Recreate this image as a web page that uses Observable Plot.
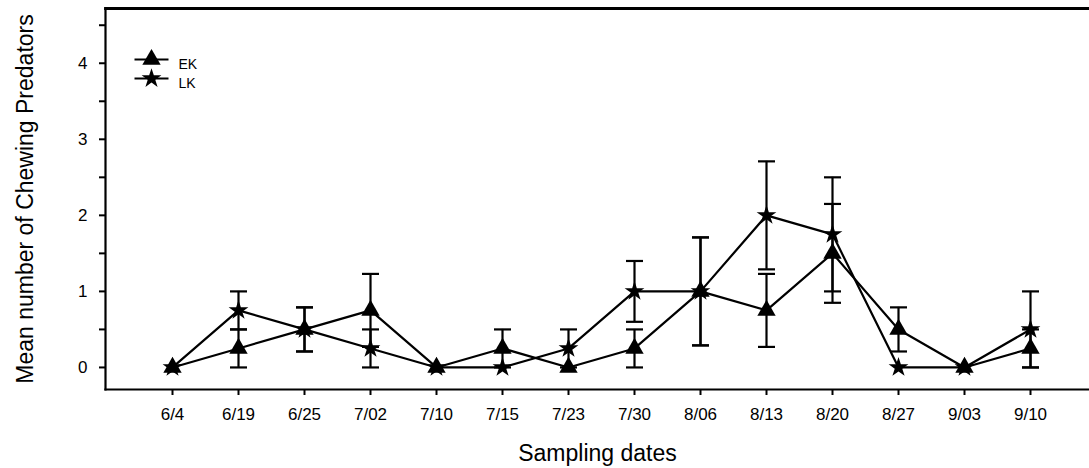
<!DOCTYPE html>
<html>
<head>
<meta charset="utf-8">
<script src="https://cdn.jsdelivr.net/npm/d3@7"></script>
<script src="https://cdn.jsdelivr.net/npm/@observablehq/plot@0.6"></script>
<style>
  html, body { margin: 0; padding: 0; background: #fff; }
</style>
</head>
<body>
<div id="chart"></div>
<script>
// ---- data ----
const dates = ["6/4", "6/19", "6/25", "7/02", "7/10", "7/15", "7/23", "7/30", "8/06", "8/13", "8/20", "8/27", "9/03", "9/10"];
const ekMean = [0, 0.25, 0.5, 0.75, 0, 0.25, 0, 0.25, 1.0, 0.75, 1.5, 0.5, 0, 0.25];
const ekErr  = [0, 0.25, 0.29, 0.48, 0, 0.25, 0, 0.25, 0.71, 0.48, 0.65, 0.29, 0, 0.25];
const lkMean = [0, 0.75, 0.5, 0.25, 0, 0, 0.25, 1.0, 1.0, 2.0, 1.75, 0, 0, 0.5];
const lkErr  = [0, 0.25, 0.29, 0.25, 0, 0, 0.25, 0.4, 0.71, 0.71, 0.75, 0, 0, 0.5];
const seriesNames = ["EK", "LK"];
const yTicks = [0, 1, 2, 3, 4];
const yMinorTicks = [0.5, 1.5, 2.5, 3.5, 4.5];
const yDomain = [-0.29, 4.72];
const xTitle = "Sampling dates";
const yTitle = "Mean number of Chewing Predators";

// ---- table built from the arrays ----
const rows = dates.flatMap((d, i) => [
  {date: d, series: "EK", mean: ekMean[i], err: ekErr[i]},
  {date: d, series: "LK", mean: lkMean[i], err: lkErr[i]}
]);
const withErr = rows.filter(d => d.err > 0);
const symbolFor = {EK: "triangle", LK: "star"};
const sizeFor = {EK: 6.8, LK: 6.2};

// horizontal-line symbol (error-bar caps and legend line)
const hLine = {
  draw(ctx, size) {
    const h = Math.sqrt(size / Math.PI);
    ctx.moveTo(-h, 0);
    ctx.lineTo(h, 0);
  }
};

const font = "'Liberation Sans', Arial, Helvetica, sans-serif";

const legendMarks = seriesNames.flatMap((s, k) => {
  const dy = 51 + 19 * k;
  return [
    Plot.dot([s], {frameAnchor: "top-left", dx: 46, dy, symbol: hLine, r: 17, stroke: "black", strokeWidth: 2.2, fill: "none"}),
    Plot.dot([s], {frameAnchor: "top-left", dx: 46, dy, symbol: symbolFor[s], r: sizeFor[s], fill: "black", stroke: "none"}),
    Plot.text([s], {frameAnchor: "top-left", dx: 73, dy, text: d => d, textAnchor: "start", fontSize: 14, fill: "black"})
  ];
});

const chart = Plot.plot({
  width: 1089,
  height: 468,
  marginLeft: 105,
  marginRight: 0,
  marginTop: 8,
  marginBottom: 79,
  style: {fontFamily: font, fontSize: "17px", background: "#fff", color: "black"},
  x: {type: "point", domain: dates, padding: 0.9455, align: 0.528},
  y: {domain: yDomain},
  marks: [
    Plot.frame({anchor: "top", stroke: "black", strokeWidth: 2.8}),
    Plot.frame({anchor: "bottom", stroke: "black", strokeWidth: 2.2}),
    Plot.frame({anchor: "left", stroke: "black", strokeWidth: 2.2}),
    Plot.axisY({ticks: yTicks, tickFormat: "d", tickSize: 6, tickPadding: 12, strokeWidth: 2, fontSize: 17, label: null}),
    Plot.axisY({ticks: yMinorTicks, tickSize: 6, tickFormat: () => "", strokeWidth: 2, label: null}),
    Plot.axisX({tickSize: 6, tickPadding: 12, strokeWidth: 2, fontSize: 17, label: null}),
    Plot.text([xTitle], {frameAnchor: "bottom", dy: 71, text: d => d, fontSize: 23, lineAnchor: "bottom", textAnchor: "middle", fill: "black"}),
    Plot.text([yTitle], {frameAnchor: "left", dx: -73, text: d => d, rotate: -90, fontSize: 23, lineAnchor: "bottom", textAnchor: "middle", fill: "black"}),
    // error bars
    Plot.ruleX(withErr, {x: "date", y1: d => d.mean - d.err, y2: d => d.mean + d.err, stroke: "black", strokeWidth: 2.2}),
    Plot.dot(withErr, {x: "date", y: d => d.mean + d.err, symbol: hLine, r: 8.5, stroke: "black", strokeWidth: 2.2, fill: "none"}),
    Plot.dot(withErr, {x: "date", y: d => d.mean - d.err, symbol: hLine, r: 8.5, stroke: "black", strokeWidth: 2.2, fill: "none"}),
    // lines
    Plot.line(rows, {x: "date", y: "mean", z: "series", stroke: "black", strokeWidth: 2.2}),
    // markers
    Plot.dot(rows.filter(d => d.series === "EK"), {x: "date", y: "mean", symbol: symbolFor.EK, r: sizeFor.EK, fill: "black", stroke: "none"}),
    Plot.dot(rows.filter(d => d.series === "LK"), {x: "date", y: "mean", symbol: symbolFor.LK, r: sizeFor.LK, fill: "black", stroke: "none"}),
    ...legendMarks
  ]
});

document.getElementById("chart").appendChild(chart);
</script>
</body>
</html>
